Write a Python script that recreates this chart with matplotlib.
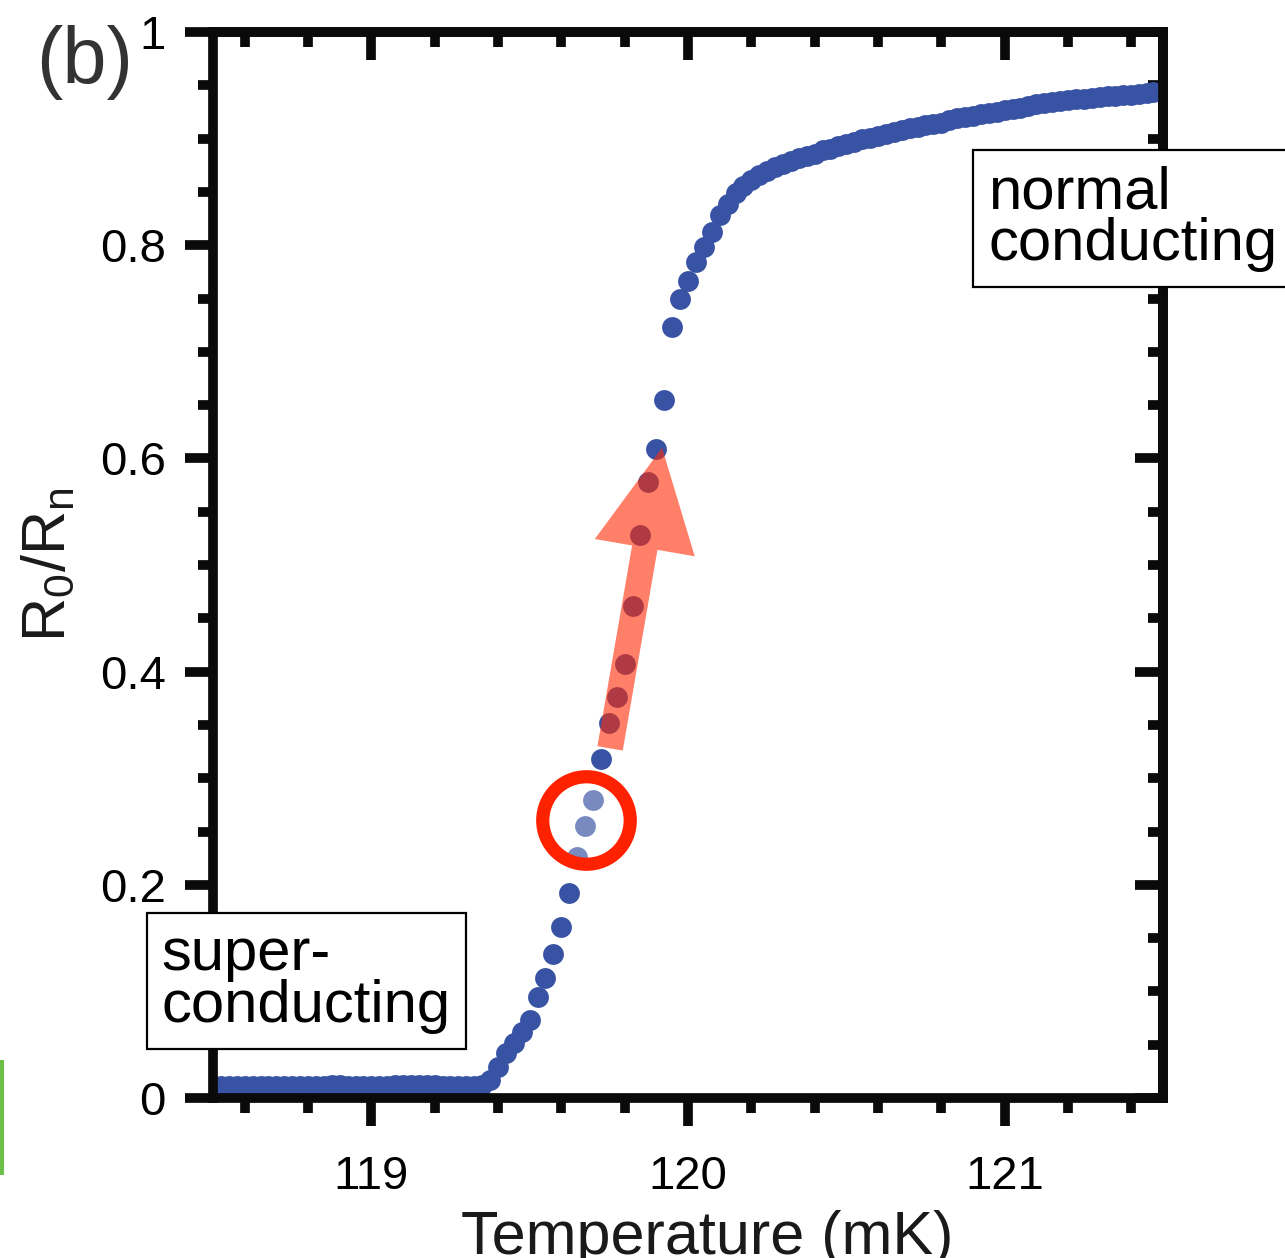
import matplotlib
matplotlib.use("Agg")
import matplotlib.pyplot as plt
from matplotlib.patches import FancyArrowPatch, ArrowStyle, Rectangle
from matplotlib.ticker import MultipleLocator, FuncFormatter

plt.rcParams['font.family'] = ['Liberation Sans', 'DejaVu Sans']
plt.rcParams['mathtext.fontset'] = 'custom'
plt.rcParams['mathtext.rm'] = 'Liberation Sans'
plt.rcParams['mathtext.it'] = 'Liberation Sans'

# ---------------- data ----------------
temp_flat = [118.500, 118.525, 118.550, 118.575, 118.600, 118.625, 118.650, 118.675,
             118.700, 118.725, 118.750, 118.775, 118.800, 118.825, 118.850, 118.875,
             118.900, 118.925, 118.950, 118.975, 119.000, 119.025, 119.050, 119.075,
             119.100, 119.125, 119.150, 119.175, 119.200, 119.225, 119.250, 119.275,
             119.300, 119.325, 119.350]
r_flat = [0.011, 0.011, 0.011, 0.011, 0.011, 0.011, 0.011, 0.011,
          0.011, 0.011, 0.011, 0.011, 0.011, 0.011, 0.011, 0.012,
          0.012, 0.011, 0.011, 0.011, 0.011, 0.011, 0.011, 0.012,
          0.012, 0.012, 0.012, 0.012, 0.012, 0.011, 0.011, 0.011,
          0.011, 0.011, 0.012]

temp_rise = [119.375, 119.400, 119.425, 119.450, 119.475, 119.500, 119.525, 119.550,
             119.575, 119.600, 119.625]
r_rise = [0.017, 0.029, 0.042, 0.052, 0.062, 0.073, 0.095, 0.113,
          0.135, 0.160, 0.192]

# points inside the red circle (drawn faded)
temp_circled = [119.650, 119.675, 119.700]
r_circled = [0.226, 0.255, 0.280]

temp_upper = [119.725, 119.750, 119.775, 119.800, 119.825, 119.850, 119.875, 119.900,
              119.925, 119.950, 119.975, 120.000, 120.025, 120.050, 120.075, 120.100,
              120.125, 120.150, 120.175, 120.200, 120.225, 120.250, 120.275, 120.300,
              120.325, 120.350, 120.375, 120.400, 120.425, 120.450, 120.475, 120.500,
              120.525, 120.550, 120.575, 120.600, 120.625, 120.650, 120.675, 120.700,
              120.725, 120.750, 120.775, 120.800, 120.825, 120.850, 120.875, 120.900,
              120.925, 120.950, 120.975, 121.000, 121.025, 121.050, 121.075, 121.100,
              121.125, 121.150, 121.175, 121.200, 121.225, 121.250, 121.275, 121.300,
              121.325, 121.350, 121.375, 121.400, 121.425, 121.450, 121.470]
r_upper = [0.318, 0.352, 0.376, 0.407, 0.462, 0.528, 0.578, 0.609,
           0.655, 0.723, 0.750, 0.766, 0.784, 0.798, 0.812, 0.828,
           0.839, 0.849, 0.856, 0.861, 0.866, 0.870, 0.873, 0.876,
           0.879, 0.882, 0.884, 0.886, 0.889, 0.890, 0.893, 0.895,
           0.897, 0.900, 0.901, 0.902, 0.904, 0.906, 0.908, 0.910,
           0.911, 0.913, 0.914, 0.915, 0.917, 0.919, 0.920, 0.921,
           0.923, 0.924, 0.925, 0.927, 0.928, 0.929, 0.931, 0.932,
           0.933, 0.934, 0.935, 0.936, 0.937, 0.937, 0.938, 0.939,
           0.940, 0.940, 0.941, 0.941, 0.942, 0.943, 0.944]

x_ticks = [119, 120, 121]
y_ticks = [0, 0.2, 0.4, 0.6, 0.8, 1.0]
x_label = 'Temperature (mK)'
y_label = r'R$_0$/R$_n$'
panel_label = '(b)'
label_super = 'super-\nconducting'
label_normal = 'normal\nconducting'

# annotation anchors (data coords)
circle_center = (119.677, 0.261)
arrow_tail = (119.754, 0.328)
arrow_tip = (119.918, 0.610)
super_box_pos = (118.794, 0.110)
normal_box_pos = (121.405, 0.825)

# ---------------- styling ----------------
BLUE = '#3953a4'
RED = '#ff2200'
SPINE_W = 7.0

fig = plt.figure(figsize=(12.85, 12.58), dpi=100)
ax = fig.add_axes([213/1285, 160/1258, 950/1285, 1066/1258])

ms = 15
ax.plot(temp_flat, r_flat, 'o', color=BLUE, ms=ms, mec='none', zorder=2)
ax.plot(temp_rise, r_rise, 'o', color=BLUE, ms=ms, mec='none', zorder=2)
ax.plot(temp_upper, r_upper, 'o', color=BLUE, ms=ms, mec='none', zorder=2, clip_on=False)
ax.plot(temp_circled, r_circled, 'o', color=BLUE, alpha=0.68, ms=ms, mec='none', zorder=2)

# red circle
ax.plot([circle_center[0]], [circle_center[1]], 'o', ms=63, mfc='none', mec=RED,
        mew=9.5, zorder=4)

# translucent arrow
arr = FancyArrowPatch(arrow_tail, arrow_tip,
                      arrowstyle=ArrowStyle('Simple', head_length=73, head_width=73,
                                            tail_width=18.5),
                      mutation_scale=1, color='#ff2a05', alpha=0.6, lw=0,
                      shrinkA=0, shrinkB=0, zorder=3)
ax.add_patch(arr)

ax.set_xlim(118.5, 121.5)
ax.set_ylim(0, 1)

for s in ax.spines.values():
    s.set_linewidth(SPINE_W)
    s.set_color('#0a0a0a')

ax.set_xticks(x_ticks)
ax.set_yticks(y_ticks)
ax.xaxis.set_minor_locator(MultipleLocator(0.2))
ax.yaxis.set_minor_locator(MultipleLocator(0.05))
ax.yaxis.set_major_formatter(FuncFormatter(lambda v, p: f'{v:g}'))
ax.tick_params(which='major', direction='out', length=20, width=SPINE_W,
               labelsize=34, color='#0a0a0a', top=False, right=False)
ax.tick_params(which='minor', direction='out', length=11, width=SPINE_W,
               color='#0a0a0a', top=False, right=False)
ax.tick_params(axis='x', which='major', pad=21)
ax.tick_params(axis='y', which='major', pad=14)

# inward ticks on top and right
secx = ax.secondary_xaxis('top')
secx.set_xticks(x_ticks)
secx.xaxis.set_minor_locator(MultipleLocator(0.2))
secx.tick_params(which='major', direction='in', length=20, width=SPINE_W,
                 labeltop=False, color='#0a0a0a')
secx.tick_params(which='minor', direction='in', length=11, width=SPINE_W,
                 color='#0a0a0a')
secx.spines['top'].set_linewidth(SPINE_W)
secy = ax.secondary_yaxis('right')
secy.set_yticks(y_ticks)
secy.yaxis.set_minor_locator(MultipleLocator(0.05))
secy.tick_params(which='major', direction='in', length=20, width=SPINE_W,
                 labelright=False, color='#0a0a0a')
secy.tick_params(which='minor', direction='in', length=11, width=SPINE_W,
                 color='#0a0a0a')
secy.spines['right'].set_linewidth(SPINE_W)

ax.set_xlabel(x_label, fontsize=44, labelpad=2, color='#1a1a1a')
ax.xaxis.set_label_coords(0.52, -0.105)
ax.set_ylabel(y_label, fontsize=44, labelpad=16, color='#1a1a1a')

# panel label
fig.text(85/1285, 1 - 63/1258, panel_label, fontsize=57, color='#333333',
         ha='center', va='center')

# text boxes (figure-level, drawn above the spines)
box = dict(boxstyle='square,pad=0.25', fc='white', ec='black', lw=1.6)
fig.text(super_box_pos[0], super_box_pos[1], label_super, transform=ax.transData,
         fontsize=43, ha='center', va='center', multialignment='left',
         linespacing=0.92, bbox=box, zorder=6)
fig.text(normal_box_pos[0], normal_box_pos[1], label_normal, transform=ax.transData,
         fontsize=43, ha='center', va='center', multialignment='left',
         linespacing=0.92, bbox=box, zorder=6)

# green edge artifact at the left border
fig.patches.append(Rectangle((0, 83/1258), 4/1285, 115/1258, transform=fig.transFigure,
                             fc='#6cc04a', ec='none'))

fig.savefig('out.png', dpi=100)
